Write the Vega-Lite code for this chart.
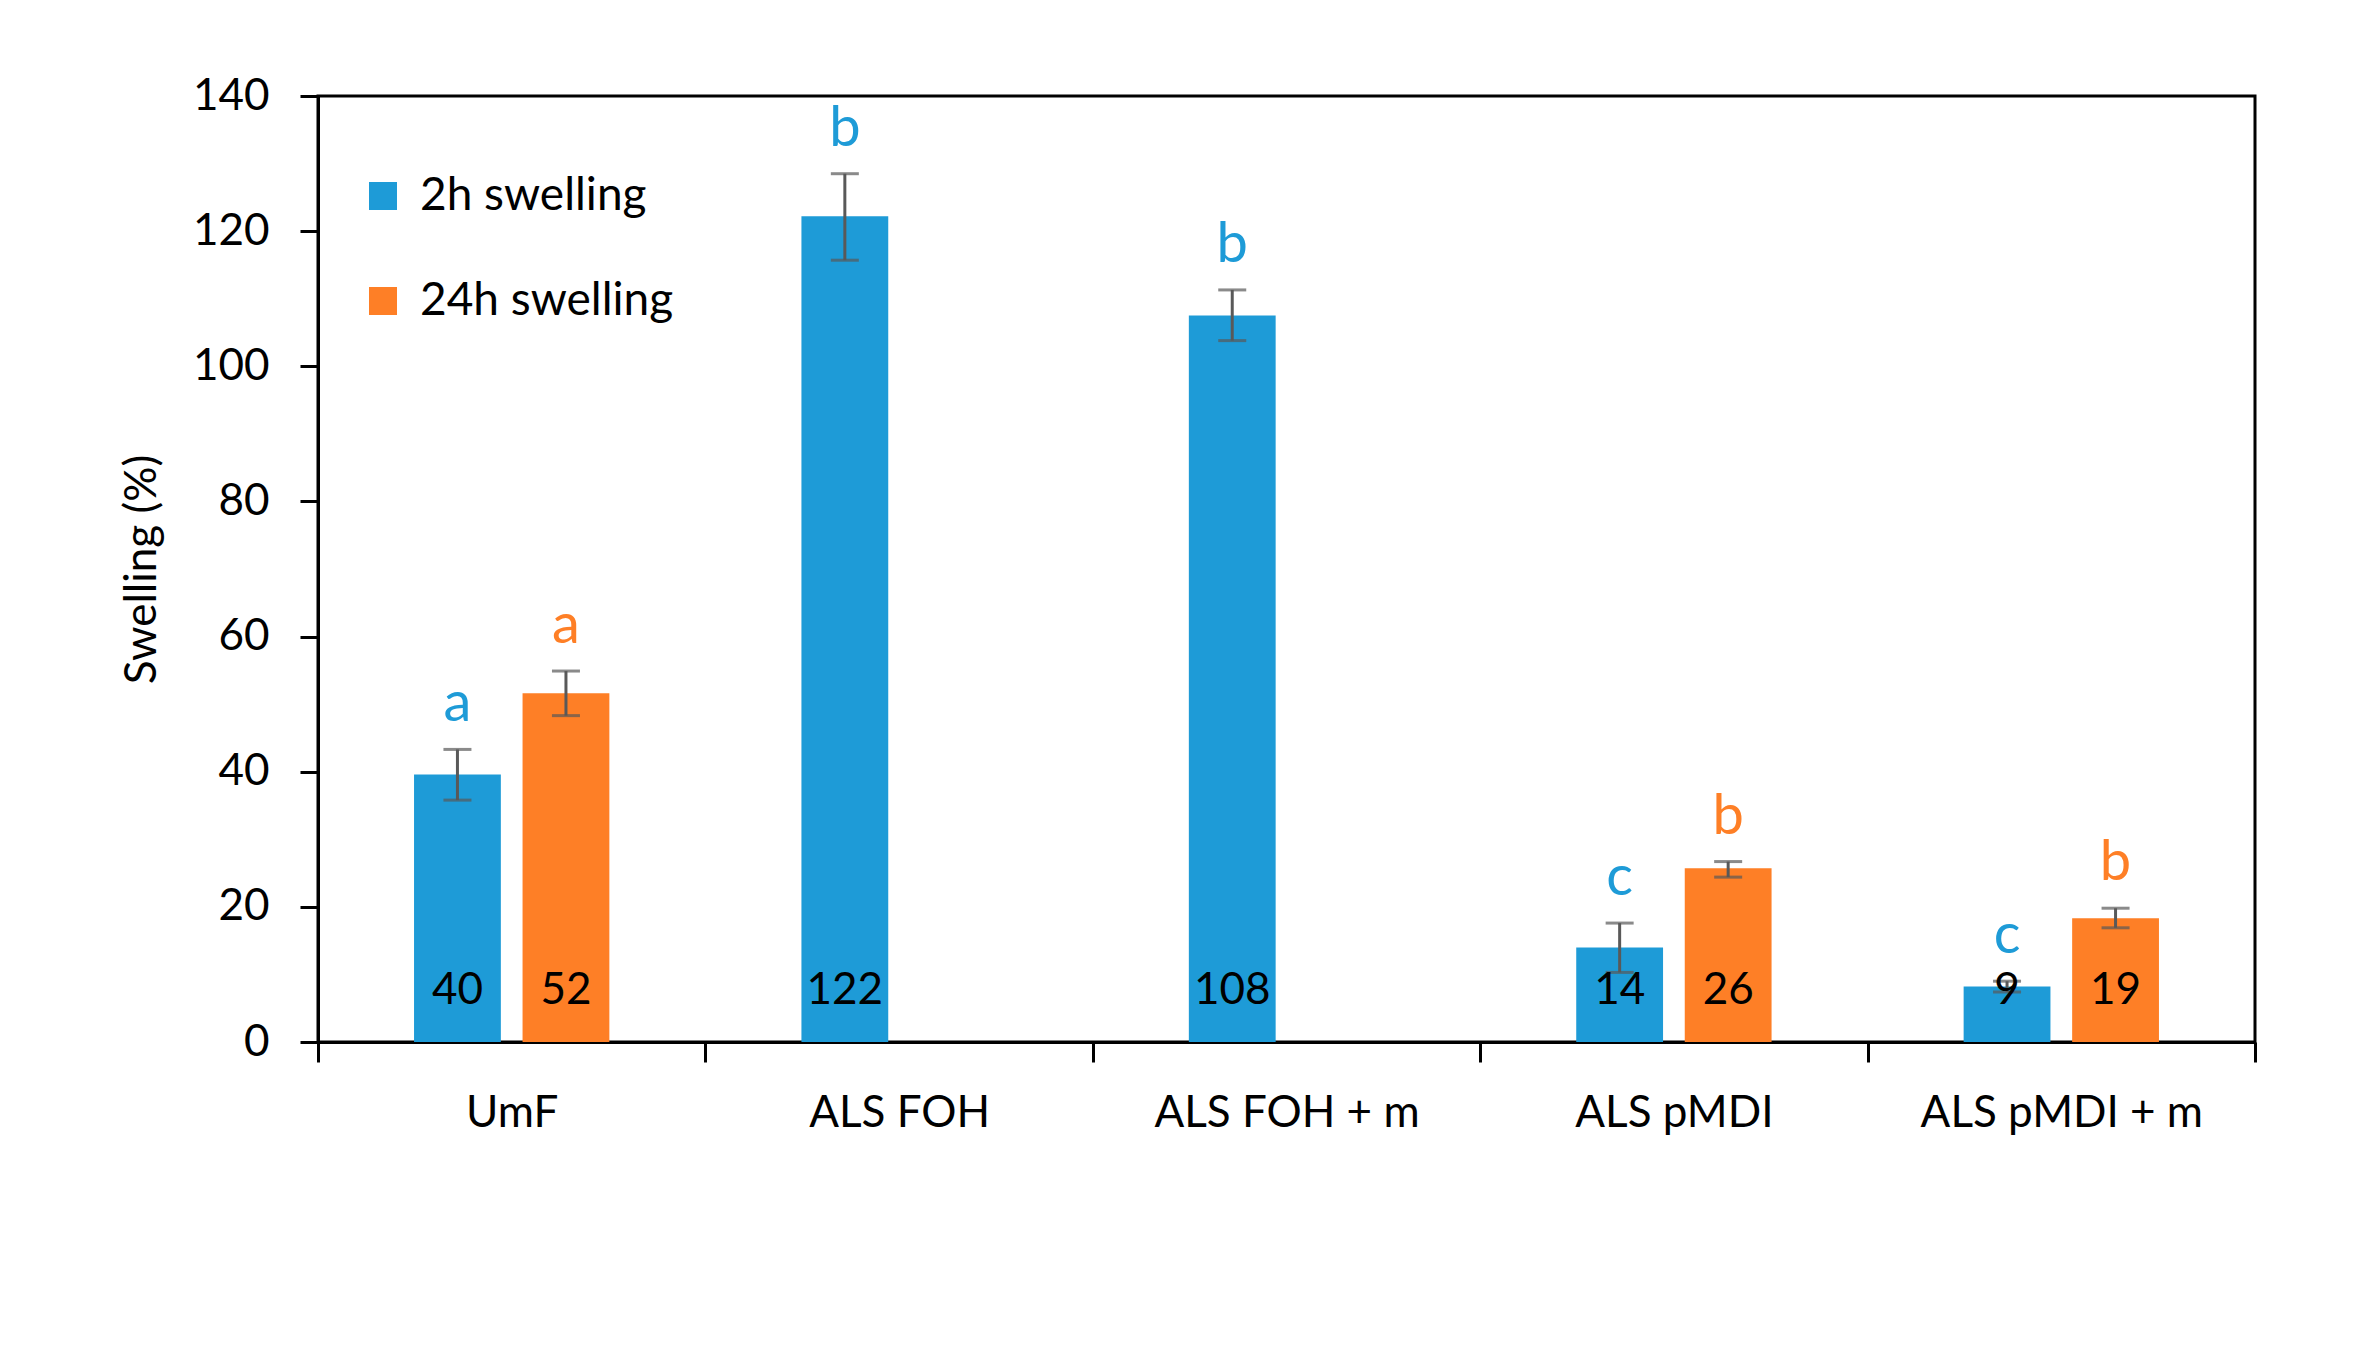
{
  "$schema": "https://vega.github.io/schema/vega-lite/v6.json",
  "width": 1937,
  "height": 946,
  "autosize": {"type": "none"},
  "padding": {"left": 318, "top": 96, "right": 106, "bottom": 307},
  "background": "white",
  "config": {
    "font": "Lato",
    "view": {"stroke": "#000000", "strokeWidth": 3},
    "axis": {
      "labelFont": "Lato", "titleFont": "Lato",
      "labelColor": "#000000", "titleColor": "#000000",
      "domainColor": "#000000", "tickColor": "#000000",
      "domainWidth": 3, "tickWidth": 3,
      "labelFontSize": 44, "titleFontSize": 44, "labelLimit": 0,
      "titleFontWeight": "normal", "grid": false
    }
  },
  "data": {
    "values": [
      {"material": "UmF", "series": "2h swelling", "value": 39.6, "lower": 35.8, "upper": 43.3, "label": "40", "letter": "a"},
      {"material": "UmF", "series": "24h swelling", "value": 51.6, "lower": 48.3, "upper": 54.9, "label": "52", "letter": "a"},
      {"material": "ALS FOH", "series": "2h swelling", "value": 122.2, "lower": 115.7, "upper": 128.5, "label": "122", "letter": "b"},
      {"material": "ALS FOH + m", "series": "2h swelling", "value": 107.5, "lower": 103.8, "upper": 111.3, "label": "108", "letter": "b"},
      {"material": "ALS pMDI", "series": "2h swelling", "value": 14.0, "lower": 10.3, "upper": 17.6, "label": "14", "letter": "c"},
      {"material": "ALS pMDI", "series": "24h swelling", "value": 25.7, "lower": 24.4, "upper": 26.7, "label": "26", "letter": "b"},
      {"material": "ALS pMDI + m", "series": "2h swelling", "value": 8.2, "lower": 7.4, "upper": 9.0, "label": "9", "letter": "c"},
      {"material": "ALS pMDI + m", "series": "24h swelling", "value": 18.3, "lower": 16.9, "upper": 19.8, "label": "19", "letter": "b"}
    ]
  },
  "encoding": {
    "x": {
      "field": "material", "type": "nominal",
      "sort": ["UmF", "ALS FOH", "ALS FOH + m", "ALS pMDI", "ALS pMDI + m"],
      "scale": {"domain": ["UmF", "ALS FOH", "ALS FOH + m", "ALS pMDI", "ALS pMDI + m"], "paddingInner": 0, "paddingOuter": 0},
      "axis": {"title": null, "labelAngle": 0, "tickBand": "extent", "tickSize": 20, "labelPadding": 29, "labelLimit": 0}
    },
    "xOffset": {
      "field": "series", "type": "nominal",
      "scale": {"domain": ["2h swelling", "24h swelling"], "paddingInner": 0.2, "paddingOuter": 0.885}
    }
  },
  "layer": [
    {
      "mark": {"type": "bar"},
      "encoding": {
        "y": {
          "field": "value", "type": "quantitative", "title": "Swelling (%)",
          "scale": {"domain": [0, 140], "nice": false},
          "axis": {"values": [0, 20, 40, 60, 80, 100, 120, 140], "tickSize": 18, "labelPadding": 31, "titlePadding": 28}
        },
        "color": {
          "field": "series", "type": "nominal",
          "scale": {"domain": ["2h swelling", "24h swelling"], "range": ["#1E9BD7", "#FE7F26"]},
          "legend": {
            "title": null, "orient": "none", "legendX": 42, "legendY": 77,
            "symbolType": "square", "symbolSize": 784, "symbolStrokeWidth": 0,
            "labelFontSize": 46, "labelFont": "Lato", "labelColor": "#000000", "labelLimit": 0,
            "rowPadding": 59, "labelOffset": 14, "padding": 0
          }
        }
      }
    },
    {
      "mark": {"type": "rule", "color": "#595959", "strokeWidth": 3},
      "encoding": {
        "y": {"field": "lower", "type": "quantitative", "title": "Swelling (%)"},
        "y2": {"field": "upper"}
      }
    },
    {
      "mark": {"type": "tick", "color": "#595959", "thickness": 3, "size": 28},
      "encoding": {"y": {"field": "lower", "type": "quantitative", "title": "Swelling (%)"}}
    },
    {
      "mark": {"type": "tick", "color": "#595959", "thickness": 3, "size": 28},
      "encoding": {"y": {"field": "upper", "type": "quantitative", "title": "Swelling (%)"}}
    },
    {
      "mark": {"type": "text", "fontSize": 44, "font": "Lato", "baseline": "middle", "dy": -51, "color": "#000000"},
      "encoding": {
        "y": {"datum": 0, "type": "quantitative", "title": "Swelling (%)"},
        "text": {"field": "label", "type": "nominal"}
      }
    },
    {
      "mark": {"type": "text", "fontSize": 56, "font": "Lato", "baseline": "alphabetic", "dy": -28},
      "encoding": {
        "y": {"field": "upper", "type": "quantitative", "title": "Swelling (%)"},
        "text": {"field": "letter", "type": "nominal"},
        "color": {"field": "series", "type": "nominal", "legend": null}
      }
    }
  ]
}
